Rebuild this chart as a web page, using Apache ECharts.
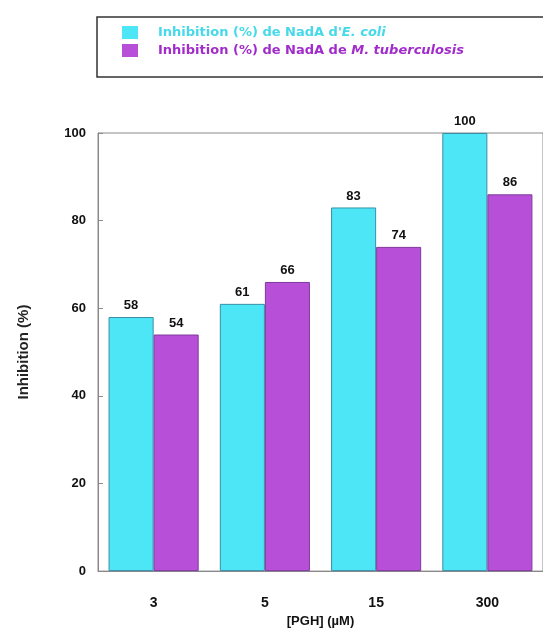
<!DOCTYPE html>
<html>
<head>
<meta charset="utf-8">
<script src="https://cdn.jsdelivr.net/npm/echarts@6/dist/echarts.min.js"></script>
<style>
	html, body { margin: 0; padding: 0; background: #fff; }
	#chart { width: 543px; height: 633px; }
</style>
</head>
<body>
<div id="chart"></div>
<script>
var categories = ['3', '5', '15', '300']
var ecoliValues = [58, 61, 83, 100]
var tuberValues = [54, 66, 74, 86]
var ecoliName = "Inhibition (%) de NadA d'E. coli"
var tuberName = 'Inhibition (%) de NadA de M. tuberculosis'

var myChart = echarts.init(document.getElementById('chart'))
var labelFont = 'Liberation Sans, Arial, sans-serif'
var legendFont = 'DejaVu Sans, sans-serif'

function legendText(name) {
	if (name === ecoliName) {
		return "{a|Inhibition (%) de NadA d'}{ai|E. coli}"
	}
	return '{b|Inhibition (%) de NadA de }{bi|M. tuberculosis}'
}

var option = {
	animation: false,
	textStyle: { fontFamily: labelFont },
	graphic: [
		{
			type: 'rect',
			shape: { x: 97, y: 17, width: 470, height: 60 },
			style: { fill: '#fff', stroke: '#333', lineWidth: 1.5 },
			z: -1,
		},
	],
	legend: {
		orient: 'vertical',
		left: 122,
		top: 26,
		icon: 'rect',
		itemWidth: 16,
		itemHeight: 13,
		itemGap: 5,
		padding: 0,
		itemStyle: { borderWidth: 0 },
		formatter: legendText,
		textStyle: {
			fontFamily: legendFont,
			rich: {
				a: { fontFamily: legendFont, color: '#45d9ea', fontWeight: 'bold', fontSize: 13, padding: [0, 0, 0, 15] },
				ai: { fontFamily: legendFont, color: '#45d9ea', fontWeight: 'bold', fontStyle: 'italic', fontSize: 13 },
				b: { fontFamily: legendFont, color: '#a22ccb', fontWeight: 'bold', fontSize: 13, padding: [0, 0, 0, 15] },
				bi: { fontFamily: legendFont, color: '#a22ccb', fontWeight: 'bold', fontStyle: 'italic', fontSize: 13 },
			},
		},
		data: [ecoliName, tuberName],
	},
	grid: {
		left: 98,
		top: 133,
		width: 447,
		height: 444,
		show: true,
		borderColor: '#8a8a8a',
		borderWidth: 1,
	},
	xAxis: {
		type: 'category',
		data: categories,
		name: '[PGH] (µM)',
		nameLocation: 'middle',
		nameGap: 42,
		nameTextStyle: { fontWeight: 'bold', fontSize: 13, color: '#111' },
		axisLine: { lineStyle: { color: '#8a8a8a' } },
		axisTick: { inside: true, length: 4, lineStyle: { color: '#8a8a8a' } },
		axisLabel: { margin: 25, fontWeight: 'bold', fontSize: 14, color: '#111' },
	},
	yAxis: {
		type: 'value',
		min: 0,
		max: 100,
		interval: 20,
		name: 'Inhibition (%)',
		nameLocation: 'middle',
		nameGap: 67,
		nameTextStyle: { fontWeight: 'bold', fontSize: 15, color: '#222' },
		splitLine: { show: false },
		axisLine: { show: true, lineStyle: { color: '#8a8a8a' } },
		axisTick: { show: true, inside: true, length: 5, lineStyle: { color: '#8a8a8a' } },
		axisLabel: { margin: 12, fontWeight: 'bold', fontSize: 13, color: '#111' },
	},
	series: [
		{
			name: ecoliName,
			type: 'bar',
			data: ecoliValues,
			barGap: '0%',
			barCategoryGap: '19%',
			itemStyle: { color: '#4de6f6', borderColor: '#3a8ea8', borderWidth: 1 },
			label: { show: true, position: 'top', distance: 5, fontWeight: 'bold', fontSize: 13, color: '#111' },
		},
		{
			name: tuberName,
			type: 'bar',
			data: tuberValues,
			barGap: '0%',
			barCategoryGap: '19%',
			itemStyle: { color: '#b84fd8', borderColor: '#7e3a9c', borderWidth: 1 },
			label: { show: true, position: 'top', distance: 5, fontWeight: 'bold', fontSize: 13, color: '#111' },
		},
	],
}

option && myChart.setOption(option)
</script>
</body>
</html>
